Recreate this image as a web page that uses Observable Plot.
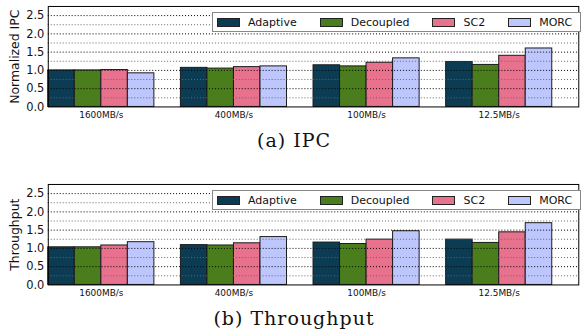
<!DOCTYPE html>
<html><head><meta charset="utf-8">
<script src="https://cdn.jsdelivr.net/npm/d3@7"></script>
<script src="https://cdn.jsdelivr.net/npm/@observablehq/plot@0.6"></script>
<style>
html,body{margin:0;padding:0;background:#fff}
body{width:581px;height:335px;overflow:hidden;position:relative;font-family:"DejaVu Sans",sans-serif}
.panel{position:absolute;left:0}
.caption{position:absolute;left:0;width:588px;text-align:center;font-family:"DejaVu Serif",serif;font-size:19px;line-height:19px;letter-spacing:1px;color:#111}
.legend{position:absolute;left:212px;width:363px;height:18px;border:1px solid #888;background:#fff;display:flex;align-items:center;gap:23px;padding-left:4px;box-sizing:content-box;font-size:11px;color:#111}
.item{display:flex;align-items:center}
.sw{width:21px;height:7px;border:1px solid #222;margin-right:8px}
</style></head><body>
<div id="p1" class="panel" style="top:0"></div>
<div id="l1" class="legend" style="top:12px"></div>
<div class="caption" style="top:131px">(a) IPC</div>
<div id="p2" class="panel" style="top:178px"></div>
<div id="l2" class="legend" style="top:190px"></div>
<div class="caption" style="top:309px">(b) Throughput</div>
<script>
const groups = ["1600MB/s", "400MB/s", "100MB/s", "12.5MB/s"];
const series = ["Adaptive", "Decoupled", "SC2", "MORC"];
const seriesColors = ["#0c3c54", "#4a7d1c", "#e8718e", "#bdc7fd"];

const ipcAdaptive  = [1.00, 1.07, 1.14, 1.23];
const ipcDecoupled = [1.00, 1.05, 1.11, 1.15];
const ipcSC2       = [1.01, 1.09, 1.21, 1.40];
const ipcMORC      = [0.92, 1.11, 1.33, 1.60];

const thrAdaptive  = [1.03, 1.09, 1.16, 1.24];
const thrDecoupled = [1.03, 1.08, 1.12, 1.15];
const thrSC2       = [1.08, 1.14, 1.24, 1.44];
const thrMORC      = [1.17, 1.31, 1.47, 1.69];

const yTicks = [0, 0.5, 1.0, 1.5, 2.0, 2.5];
const yMinorTicks = [0.25, 0.75, 1.25, 1.75, 2.25];
const yMax = 2.75;

function rows(arrs) {
  const out = [];
  groups.forEach((g, gi) => series.forEach((s, si) => {
    out.push({group: g, gi, series: s, si, value: arrs[si][gi]});
  }));
  return out;
}

function chart(data, label) {
  const slots = series.length + 1;
  return Plot.plot({
    width: 584, height: 125,
    marginLeft: 48, marginRight: 2.7, marginTop: 6, marginBottom: 18,
    style: {fontFamily: "DejaVu Sans, sans-serif", background: "#fff", color: "#111"},
    x: {domain: [0, groups.length * slots]},
    y: {domain: [0, yMax]},
    color: {domain: series, range: seriesColors},
    marks: [
      Plot.rect(data, {
        x1: d => d.gi * slots + d.si,
        x2: d => d.gi * slots + d.si + 1,
        y1: 0, y2: "value",
        fill: "series", stroke: "#1a1a1a", strokeWidth: 1
      }),
      Plot.ruleY(yMinorTicks, {stroke: "#666", strokeDasharray: "1,2", strokeWidth: 1}),
      Plot.ruleY(yTicks.filter(v => v > 0), {stroke: "#000", strokeDasharray: "1,2", strokeWidth: 1}),
      Plot.axisY({ticks: yTicks, tickFormat: d3.format(".1f"), tickSize: 0, tickPadding: 4, fontSize: 11.5,
        label: label, labelAnchor: "center", labelArrow: "none", labelOffset: 38}),
      Plot.axisX({ticks: groups.map((g, i) => i * slots + (series.length) / 2),
        tickFormat: v => groups[Math.round((v - series.length / 2) / slots)],
        tickSize: 0, tickPadding: 5, fontSize: 9, label: null}),
      Plot.frame({stroke: "#000", strokeWidth: 1})
    ]
  });
}

function legend(el) {
  series.forEach((s, i) => {
    const it = document.createElement("div");
    it.className = "item";
    const sw = document.createElement("div");
    sw.className = "sw";
    sw.style.background = seriesColors[i];
    const t = document.createElement("span");
    t.textContent = s;
    it.appendChild(sw); it.appendChild(t);
    el.appendChild(it);
  });
}

const c1 = chart(rows([ipcAdaptive, ipcDecoupled, ipcSC2, ipcMORC]), "Normalized IPC");
const c2 = chart(rows([thrAdaptive, thrDecoupled, thrSC2, thrMORC]), "Throughput");
c1.querySelectorAll("g[aria-label='y-axis label'] text, g[aria-label='y-axis label']").forEach(e => e.style.fontSize = "12.5px");
c2.querySelectorAll("g[aria-label='y-axis label'] text, g[aria-label='y-axis label']").forEach(e => e.style.fontSize = "12.5px");
document.getElementById("p1").appendChild(c1);
document.getElementById("p2").appendChild(c2);
legend(document.getElementById("l1"));
legend(document.getElementById("l2"));
</script>
</body></html>
